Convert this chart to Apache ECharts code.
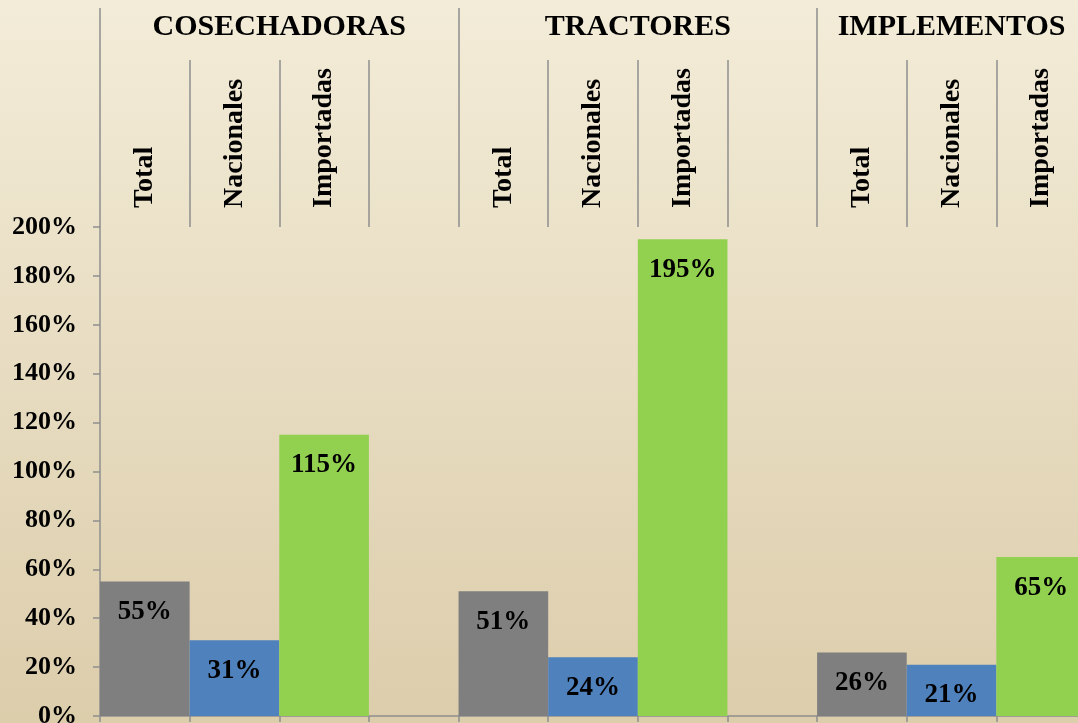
<!DOCTYPE html>
<html>
<head>
<meta charset="utf-8">
<script src="https://cdn.jsdelivr.net/npm/echarts@6/dist/echarts.min.js"></script>
<style>
  html, body { margin: 0; padding: 0; }
  #main { width: 1078px; height: 723px; }
</style>
</head>
<body>
<div id="main"></div>
<script>
// categorias (un hueco vacio entre grupos)
var categories = ['Total', 'Nacionales', 'Importadas', '',
                  'Total', 'Nacionales', 'Importadas', '',
                  'Total', 'Nacionales', 'Importadas'];
var values = [55, 31, 115, '-', 51, 24, 195, '-', 26, 21, 65];
var groupNames = ['COSECHADORAS', 'TRACTORES', 'IMPLEMENTOS'];
var groupSizes = [4, 4, 3];
var yTicks = [0, 20, 40, 60, 80, 100, 120, 140, 160, 180, 200];

var typeColors = { 'Total': '#7f7f7f', 'Nacionales': '#4f81bd', 'Importadas': '#92d050' };
var serif = "'Liberation Serif', 'Times New Roman', serif";
var lineGray = '#8f8f8f';

// inicio y centro de cada grupo en unidades de categoria
var groupStarts = [], groupCenters = {};
var acc = 0;
groupSizes.forEach(function (s, i) {
    groupStarts.push(acc);
    groupCenters[acc + s / 2] = groupNames[i];
    acc += s;
});

var chart = echarts.init(document.getElementById('main'));
chart.setOption({
    backgroundColor: {
        type: 'linear', x: 0, y: 0, x2: 0, y2: 1,
        colorStops: [{ offset: 0, color: '#f3ecd8' }, { offset: 1, color: '#dccdab' }]
    },
    animation: false,
    grid: { left: 100, right: -8, top: 227, bottom: 7, outerBoundsMode: 'none', containLabel: false },
    xAxis: [{
        type: 'category',
        position: 'bottom',
        data: categories,
        axisLine: { lineStyle: { color: lineGray, width: 1.5 } },
        axisTick: { show: true, interval: 0, length: 6, lineStyle: { color: lineGray, width: 1.5 } },
        axisLabel: { show: false }
    }, {
        type: 'category',
        position: 'top',
        data: categories,
        axisLine: { show: false },
        axisTick: { show: true, interval: 0, length: 167, lineStyle: { color: lineGray, width: 1.5 } },
        axisLabel: {
            interval: 0, rotate: -90, margin: 19,
            color: '#000', fontFamily: serif, fontWeight: 'bold', fontSize: 28
        }
    }, {
        type: 'category',
        position: 'top',
        data: categories,
        axisLine: { show: false },
        axisTick: {
            show: true, length: 219,
            interval: function (idx) { return groupStarts.indexOf(idx) >= 0; },
            lineStyle: { color: lineGray, width: 1.5 }
        },
        axisLabel: { show: false }
    }, {
        type: 'value',
        position: 'top',
        min: 0, max: categories.length, interval: 0.5,
        axisLine: { show: false },
        axisTick: { show: false },
        splitLine: { show: false },
        axisLabel: {
            margin: 185,
            color: '#000', fontFamily: serif, fontWeight: 'bold', fontSize: 30,
            formatter: function (v) { return groupCenters[v] || ''; }
        }
    }],
    yAxis: {
        type: 'value',
        min: yTicks[0], max: yTicks[yTicks.length - 1], interval: yTicks[1] - yTicks[0],
        axisLine: { show: true, lineStyle: { color: lineGray, width: 1.5 } },
        axisTick: { show: true, length: 7, lineStyle: { color: lineGray, width: 1.5 } },
        splitLine: { show: false },
        axisLabel: {
            margin: 23,
            color: '#000', fontFamily: serif, fontWeight: 'bold', fontSize: 26,
            formatter: '{value}%'
        }
    },
    series: [{
        type: 'bar',
        xAxisIndex: 0,
        barCategoryGap: '0%',
        data: values.map(function (v, i) {
            return { value: v, itemStyle: { color: typeColors[categories[i]] } };
        }),
        label: {
            show: true, position: 'insideTop', distance: 17,
            color: '#000', fontFamily: serif, fontWeight: 'bold', fontSize: 27,
            formatter: '{c}%'
        }
    }]
});
</script>
</body>
</html>
